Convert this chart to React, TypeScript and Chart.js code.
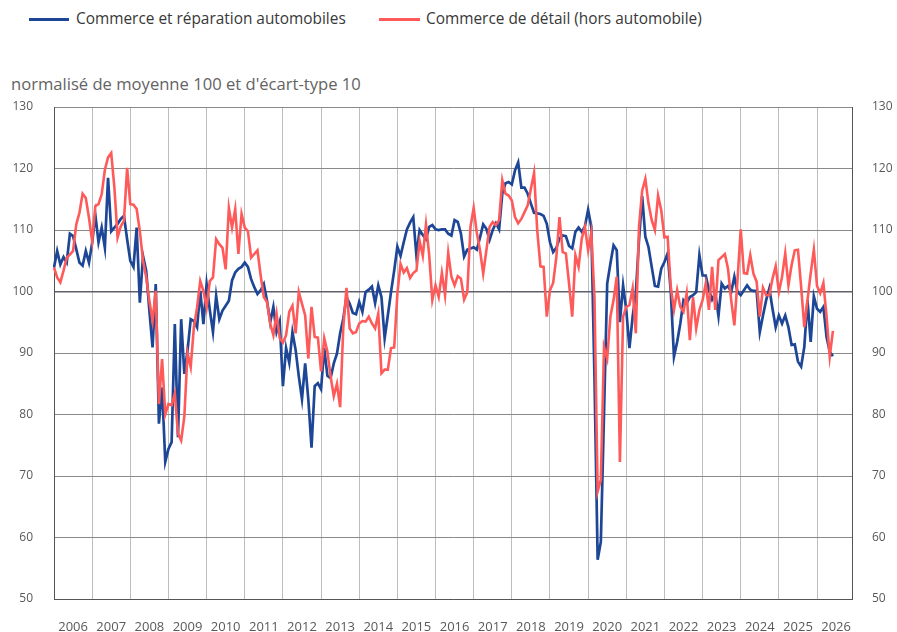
import React, { useEffect, useRef } from "react";
import { Chart, registerables } from "chart.js";

Chart.register(...registerables);

const FONT = "'Open Sans', 'Noto Sans', sans-serif";

const yearLabels = [
  "2006", "2007", "2008", "2009", "2010", "2011", "2012", "2013", "2014", "2015", "2016",
  "2017", "2018", "2019", "2020", "2021", "2022", "2023", "2024", "2025", "2026",
];
const monthCodes = ["01", "02", "03", "04", "05", "06", "07", "08", "09", "10", "11", "12"];
const categories: string[] = yearLabels.flatMap((y) => monthCodes.map((m) => `${y}-${m}`));

const seriesNames = ["Commerce et réparation automobiles", "Commerce de détail (hors automobile)"];
const seriesColors = ["#1d4796", "#ff5a5a"];
const subtitle = "normalisé de moyenne 100 et d'écart-type 10";
const yTicks = [50, 60, 70, 80, 90, 100, 110, 120, 130];

// Commerce et réparation automobiles (monthly from Jan 2006)
const autoRepair: number[] = [
  103.9, 106.6, 104.4, 105.6, 104.7, 109.4, 109.0, 106.9, 104.7, 104.2, 106.6, 104.7,
  107.9, 112.5, 108.0, 110.4, 107.1, 118.5, 109.8, 110.4, 111.0, 111.8, 112.3, 108.5,
  105.0, 104.0, 110.4, 98.2, 105.8, 103.4, 96.9, 90.9, 101.2, 78.5, 84.4, 72.3,
  74.4, 75.5, 94.7, 76.3, 95.5, 86.6, 90.4, 95.5, 95.2, 94.2, 100.1, 94.7,
  101.2, 97.0, 93.4, 99.3, 95.5, 96.9, 97.7, 98.5, 101.8, 103.1, 103.7, 104.0,
  104.7, 104.0, 102.0, 100.7, 99.6, 100.2, 101.2, 98.5, 95.0, 97.5, 93.4, 95.1,
  84.6, 90.8, 88.4, 93.4, 90.5, 86.2, 82.5, 88.3, 82.4, 74.6, 84.6, 85.1,
  84.1, 90.8, 86.3, 85.9, 88.3, 89.9, 93.2, 95.6, 99.1, 98.0, 96.5, 96.3,
  98.3, 96.7, 99.9, 100.3, 100.8, 98.1, 101.0, 99.1, 92.4, 96.1, 99.9, 103.4,
  107.3, 105.8, 108.0, 110.1, 111.2, 112.1, 105.8, 110.0, 109.2, 108.5, 110.5, 110.8,
  110.1, 110.0, 110.1, 110.1, 109.4, 109.1, 111.6, 111.3, 109.4, 105.7, 106.8, 107.0,
  107.2, 106.8, 108.8, 110.9, 110.2, 108.4, 110.0, 111.1, 110.1, 115.9, 117.6, 117.8,
  117.4, 119.7, 121.0, 116.9, 116.9, 115.9, 114.3, 112.8, 112.7, 112.6, 112.3, 111.0,
  108.0, 106.4, 107.1, 108.6, 109.1, 109.0, 107.4, 107.0, 109.7, 110.4, 109.7, 110.6,
  113.3, 110.5, 86.0, 56.4, 59.3, 80.0, 101.3, 104.5, 107.5, 106.7, 95.0, 101.0,
  97.0, 90.8, 95.9, 99.7, 108.3, 115.5, 108.9, 107.2, 104.0, 100.9, 100.8, 103.7,
  104.8, 106.2, 100.0, 89.4, 91.8, 94.8, 98.6, 98.1, 99.1, 99.4, 99.9, 105.9,
  102.6, 102.6, 100.2, 98.7, 99.7, 96.0, 101.3, 100.5, 100.9, 99.9, 102.4, 99.9,
  99.4, 100.2, 101.0, 100.3, 100.1, 100.1, 93.4, 96.1, 98.6, 100.5, 97.2, 94.2,
  96.1, 94.8, 96.1, 94.2, 91.3, 91.4, 88.6, 87.8, 91.0, 98.6, 91.8, 99.2,
  97.2, 96.7, 97.5, 92.6, 90.2, 89.5,
];

// Commerce de détail (hors automobile) (monthly from Jan 2006)
const retail: number[] = [
  103.9, 102.3, 101.5, 103.4, 105.5, 106.0, 106.6, 110.9, 112.8, 115.9, 115.2, 112.0,
  108.2, 113.9, 114.2, 115.8, 119.8, 121.8, 122.5, 116.9, 108.8, 110.6, 111.5, 120.1,
  114.2, 114.1, 113.4, 109.8, 105.0, 102.3, 98.5, 95.2, 100.1, 81.7, 89.0, 80.0,
  81.7, 81.5, 83.4, 76.9, 75.8, 79.7, 90.0, 87.7, 94.2, 97.4, 101.7, 100.1,
  97.4, 101.7, 102.3, 108.5, 107.7, 107.1, 103.6, 113.6, 110.4, 113.4, 106.1, 112.6,
  110.4, 109.8, 105.5, 106.1, 106.7, 102.6, 99.1, 98.3, 94.8, 92.9, 96.4, 92.4,
  91.7, 92.9, 96.7, 97.7, 93.2, 99.9, 98.0, 96.1, 89.1, 97.5, 92.6, 92.5,
  87.0, 92.4, 90.2, 86.2, 83.0, 85.0, 81.2, 94.2, 100.6, 94.0, 93.2, 93.4,
  94.8, 95.2, 95.1, 95.9, 94.8, 94.0, 96.4, 86.7, 87.3, 87.3, 90.8, 90.9,
  99.6, 104.5, 103.1, 103.8, 102.2, 103.0, 103.4, 108.2, 105.8, 110.9, 106.0, 98.6,
  101.0, 99.1, 103.0, 99.4, 106.3, 102.4, 101.0, 102.5, 102.1, 98.7, 99.9, 110.5,
  113.6, 109.5, 106.7, 102.9, 106.7, 110.5, 111.3, 110.8, 111.6, 118.1, 115.9, 115.6,
  114.8, 112.1, 111.1, 111.8, 112.9, 114.0, 116.7, 119.3, 109.9, 104.1, 104.0, 95.9,
  100.2, 101.4, 105.6, 112.1, 106.4, 106.2, 101.3, 95.9, 105.9, 104.0, 108.6, 110.5,
  106.7, 109.6, 99.0, 67.5, 69.4, 91.0, 89.1, 95.9, 98.6, 102.4, 72.3, 95.9,
  97.5, 97.8, 100.5, 93.2, 110.5, 116.4, 118.3, 114.3, 111.6, 110.0, 115.6, 113.2,
  108.8, 108.9, 100.8, 97.0, 100.2, 97.5, 96.7, 99.7, 92.1, 99.1, 94.0, 97.0,
  98.6, 101.3, 97.0, 104.0, 97.0, 105.1, 105.6, 106.1, 103.7, 98.6, 94.5, 102.0,
  110.1, 103.0, 102.9, 105.9, 102.9, 101.6, 95.9, 100.6, 99.4, 99.4, 102.1, 104.1,
  99.9, 102.4, 106.2, 101.0, 104.3, 106.7, 106.8, 100.8, 94.2, 98.6, 102.9, 106.8,
  100.9, 99.7, 101.4, 95.9, 89.4, 93.6,
];

const W = 897;
const H = 632;

export default function App() {
  const canvasRef = useRef<HTMLCanvasElement | null>(null);

  useEffect(() => {
    const canvas = canvasRef.current;
    if (!canvas) return;
    const chart = new Chart(canvas, {
      type: "line",
      data: {
        labels: categories,
        datasets: [
          {
            label: seriesNames[0],
            data: autoRepair,
            borderColor: seriesColors[0],
            backgroundColor: seriesColors[0],
            borderWidth: 2.7,
            pointRadius: 0,
            tension: 0,
            order: 1,
            yAxisID: "y",
          },
          {
            label: seriesNames[1],
            data: retail,
            borderColor: seriesColors[1],
            backgroundColor: seriesColors[1],
            borderWidth: 2.6,
            pointRadius: 0,
            tension: 0,
            order: 0,
            yAxisID: "y",
          },
        ],
      },
      options: {
        animation: false,
        responsive: false,
        devicePixelRatio: 1,
        layout: { padding: { top: 107, left: 0, right: 0, bottom: 0 } },
        plugins: {
          legend: { display: false },
          title: { display: false },
          tooltip: { enabled: false },
        },
        scales: {
          x: {
            type: "category",
            offset: false,
            border: { display: true, color: "#555555", width: 1 },
            grid: {
              drawTicks: false,
              color: (ctx: any) => (ctx.index % 12 === 0 ? "#bdbdbd" : "rgba(0,0,0,0)"),
              lineWidth: 1,
            },
            ticks: {
              autoSkip: false,
              maxRotation: 0,
              minRotation: 0,
              padding: 20,
              color: "#595959",
              font: { family: FONT, size: 13 },
              callback: (_v: any, idx: number) =>
                idx % 12 === 6 ? yearLabels[Math.floor(idx / 12)] : "",
            },
            afterFit: (axis: any) => {
              axis.height = 33;
            },
          },
          y: {
            type: "linear",
            position: "left",
            min: yTicks[0],
            max: yTicks[yTicks.length - 1],
            border: { display: true, color: "#555555", width: 1 },
            grid: {
              drawTicks: false,
              color: (ctx: any) => (ctx.tick && ctx.tick.value === 100 ? "#5f5f6a" : "#8a8a8a"),
              lineWidth: (ctx: any) => (ctx.tick && ctx.tick.value === 100 ? 1.6 : 1),
            },
            ticks: {
              stepSize: 10,
              padding: 21,
              color: "#595959",
              font: { family: FONT, size: 12 },
            },
            afterFit: (axis: any) => {
              axis.width = 54;
            },
          },
          y2: {
            type: "linear",
            position: "right",
            min: yTicks[0],
            max: yTicks[yTicks.length - 1],
            border: { display: true, color: "#555555", width: 1 },
            grid: { display: false, drawTicks: false },
            ticks: {
              stepSize: 10,
              padding: 20,
              color: "#595959",
              font: { family: FONT, size: 12 },
            },
            afterFit: (axis: any) => {
              axis.width = 45;
            },
          },
        },
      },
    });
    return () => chart.destroy();
  }, []);

  const legendText: React.CSSProperties = {
    position: "absolute",
    top: 9,
    fontFamily: FONT,
    fontSize: 15.4,
    lineHeight: "20px",
    color: "#383838",
    whiteSpace: "nowrap",
  };

  return (
    <div
      style={{
        position: "absolute",
        left: 0,
        top: 0,
        width: W,
        height: H,
        background: "#ffffff",
        overflow: "hidden",
      }}
    >
      <div style={{ position: "absolute", left: 29, top: 18, width: 40, height: 3, background: seriesColors[0] }} />
      <div style={{ ...legendText, left: 76 }}>{seriesNames[0]}</div>
      <div style={{ position: "absolute", left: 379, top: 18, width: 41, height: 3, background: seriesColors[1] }} />
      <div style={{ ...legendText, left: 426 }}>{seriesNames[1]}</div>
      <div
        style={{
          position: "absolute",
          left: 11,
          top: 72,
          fontFamily: FONT,
          fontSize: 16.6,
          lineHeight: "23px",
          color: "#636363",
          whiteSpace: "nowrap",
        }}
      >
        {subtitle}
      </div>
      <canvas
        ref={canvasRef}
        width={W}
        height={H}
        style={{ position: "absolute", left: 0, top: 0, width: W, height: H }}
      />
    </div>
  );
}
